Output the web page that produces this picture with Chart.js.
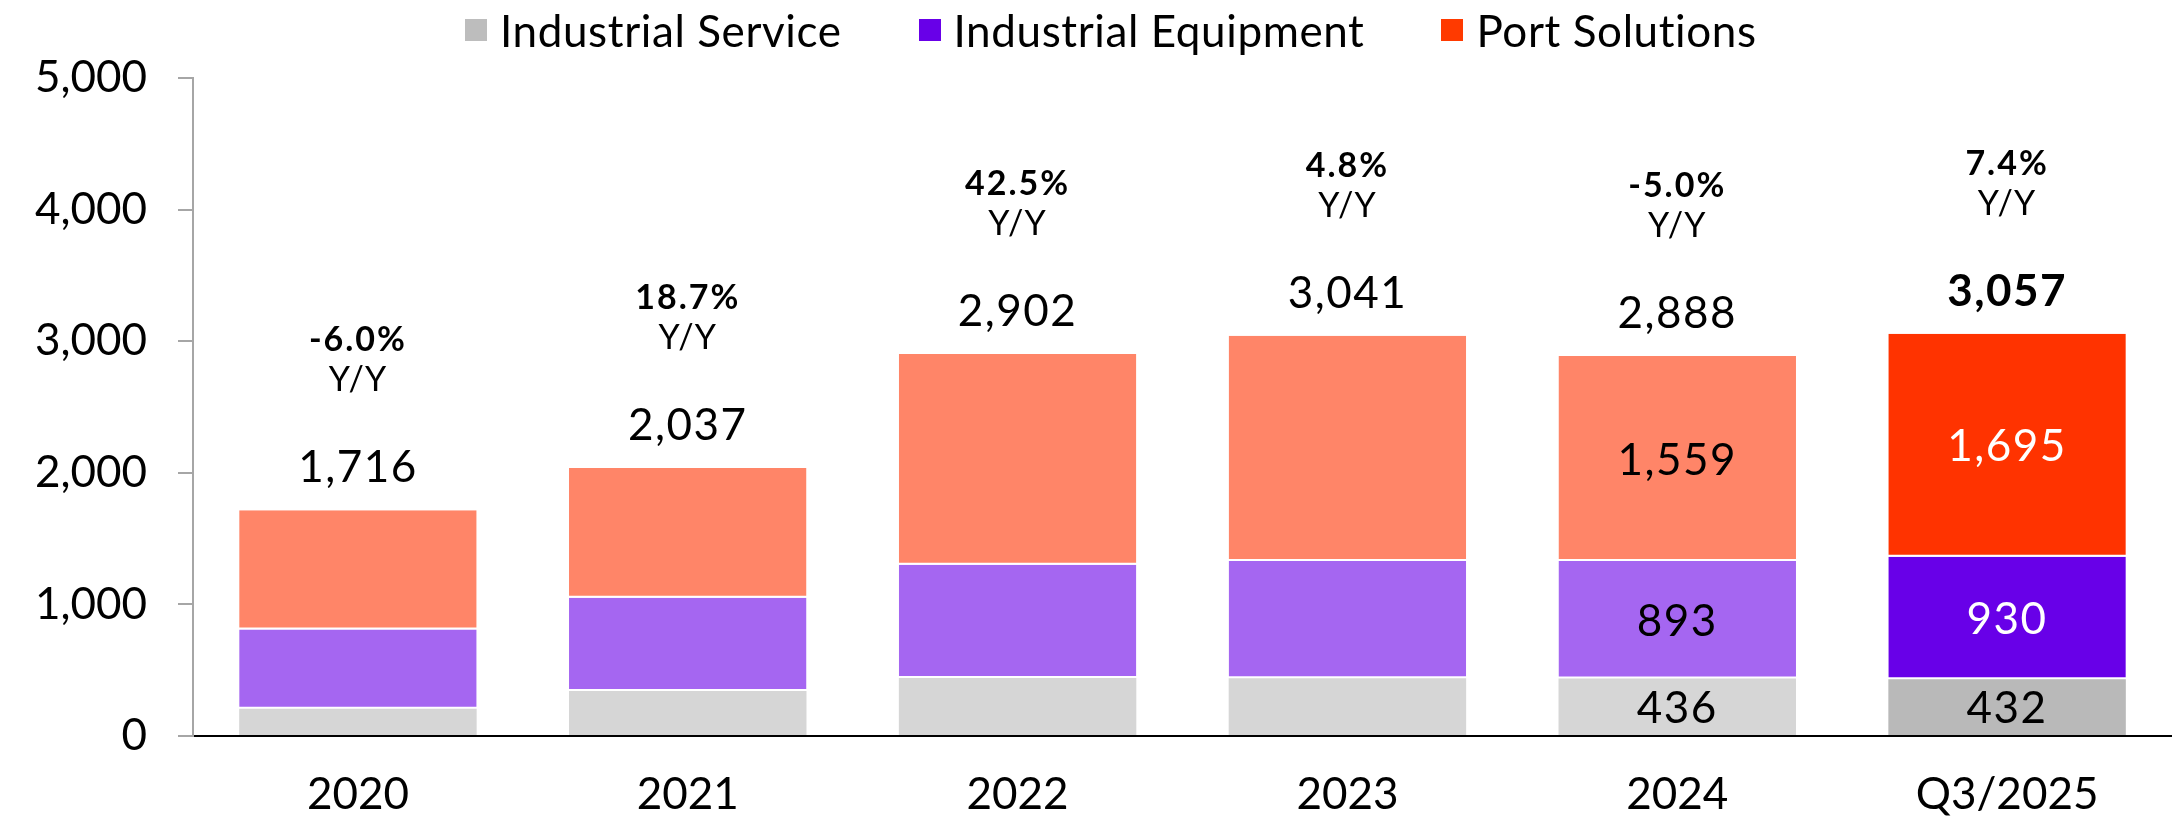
<!DOCTYPE html>
<html>
<head>
<meta charset="utf-8">
<script src="https://cdn.jsdelivr.net/npm/chart.js@4.4.1/dist/chart.umd.min.js"></script>
<style>
  html, body { margin: 0; padding: 0; background: #ffffff; overflow: hidden; }
  #wrap { position: relative; width: 2172px; height: 817px; }
  #legend { position: absolute; left: 465px; top: 0; height: 60px; display: flex; align-items: center;
            font-family: Lato, "Noto Sans", sans-serif; font-size: 44px; color: #000; white-space: nowrap;
            letter-spacing: 0.6px; }
  .item { display: flex; align-items: center; margin-right: 77px; }
  .box { width: 22px; height: 22px; margin-right: 13px; }
  canvas { position: absolute; left: 0; top: 0; }
</style>
</head>
<body>
<div id="wrap">
  <canvas id="c" width="2172" height="817"></canvas>
  <div id="legend"></div>
</div>
<script>
const categories = ['2020', '2021', '2022', '2023', '2024', 'Q3/2025'];
const seriesNames = ['Industrial Service', 'Industrial Equipment', 'Port Solutions'];
const industrialService = [208, 342, 440, 439, 436, 432];
const industrialEquipment = [601, 708, 861, 891, 893, 930];
const portSolutions = [907, 987, 1601, 1711, 1559, 1695];
const totals = [1716, 2037, 2902, 3041, 2888, 3057];
const yoyChange = ['-6.0%', '18.7%', '42.5%', '4.8%', '-5.0%', '7.4%'];
const yTicks = [0, 1000, 2000, 3000, 4000, 5000];
const labelledBars = ['2024', 'Q3/2025'];

const FONT = 'Lato, "Noto Sans", sans-serif';
const lightCols = ['#d6d6d6', '#a566f1', '#ff8568'];
const darkCols = ['#b9b9b9', '#6800e8', '#ff3300'];
const legendCols = ['#bdbdbd', '#6800e8', '#ff3a00'];
const segTextDark = ['#000000', '#ffffff', '#ffffff'];

function colsFor(s) {
  return categories.map((c, i) => i === categories.length - 1 ? darkCols[s] : lightCols[s]);
}

// HTML legend built from series names
const lg = document.getElementById('legend');
seriesNames.forEach((n, s) => {
  const it = document.createElement('div'); it.className = 'item';
  const b = document.createElement('div'); b.className = 'box'; b.style.background = legendCols[s];
  const t = document.createElement('span'); t.textContent = n;
  it.appendChild(b); it.appendChild(t); lg.appendChild(it);
});

const seriesData = [industrialService, industrialEquipment, portSolutions];

const labelPlugin = {
  id: 'labels',
  afterDatasetsDraw(chart) {
    const ctx = chart.ctx;
    const y = chart.scales.y;
    const metas = [0, 1, 2].map(d => chart.getDatasetMeta(d));
    ctx.save();
    ctx.textAlign = 'center';
    ctx.textBaseline = 'alphabetic';
    categories.forEach((cat, i) => {
      const x = metas[0].data[i].x;
      const top = y.getPixelForValue(totals[i]);
      const last = i === categories.length - 1;
      ctx.fillStyle = '#000';
      ctx.letterSpacing = '1.5px';
      ctx.font = (last ? 'bold ' : '') + '44px ' + FONT;
      ctx.fillText(totals[i].toLocaleString('en-US'), x, top - 28);
      ctx.letterSpacing = '1px';
      ctx.font = '34px ' + FONT;
      ctx.fillText('Y/Y', x, top - 119);
      ctx.letterSpacing = '2px';
      ctx.font = 'bold 34px ' + FONT;
      ctx.fillText(yoyChange[i], x, top - 159);
      if (labelledBars.includes(cat)) {
        ctx.letterSpacing = '1.5px';
        ctx.font = '44px ' + FONT;
        metas.forEach((m, d) => {
          const el = m.data[i];
          const cy = (el.y + el.base) / 2;
          ctx.fillStyle = last ? segTextDark[d] : '#000';
          ctx.fillText(seriesData[d][i].toLocaleString('en-US'), x, cy + 16);
        });
      }
    });
    ctx.letterSpacing = '0px';
    ctx.restore();
  }
};

new Chart(document.getElementById('c'), {
  type: 'bar',
  data: {
    labels: categories,
    datasets: seriesNames.map((n, s) => ({
      label: n,
      data: seriesData[s],
      backgroundColor: colsFor(s),
      borderColor: '#ffffff',
      borderWidth: s === 0 ? 0 : { top: 0, left: 0, right: 0, bottom: 2 },
      borderSkipped: false,
      categoryPercentage: 1,
      barPercentage: 0.72
    }))
  },
  options: {
    responsive: false,
    animation: false,
    devicePixelRatio: 1,
    locale: 'en-US',
    layout: { padding: { top: 78, left: 0, right: 0, bottom: 0 } },
    plugins: { legend: { display: false }, tooltip: { enabled: false } },
    scales: {
      x: {
        stacked: true,
        grid: { display: false, drawTicks: false },
        border: { display: true, color: '#000000', width: 2 },
        ticks: { color: '#000', font: { family: FONT, size: 44 }, padding: 32 },
        afterFit(scale) { scale.height = 81; }
      },
      y: {
        stacked: true,
        min: 0, max: 5000,
        afterBuildTicks(scale) { scale.ticks = yTicks.map(v => ({ value: v })); },
        grid: { drawOnChartArea: false, drawTicks: true, tickLength: 15, color: '#a6a6a6', lineWidth: 2 },
        border: { display: true, color: '#a6a6a6', width: 2 },
        ticks: { color: '#000', font: { family: FONT, size: 44 }, padding: 31,
                 callback: v => Number(v).toLocaleString('en-US') },
        afterFit(scale) { scale.width = 193; }
      }
    }
  },
  plugins: [labelPlugin]
});
</script>
</body>
</html>
